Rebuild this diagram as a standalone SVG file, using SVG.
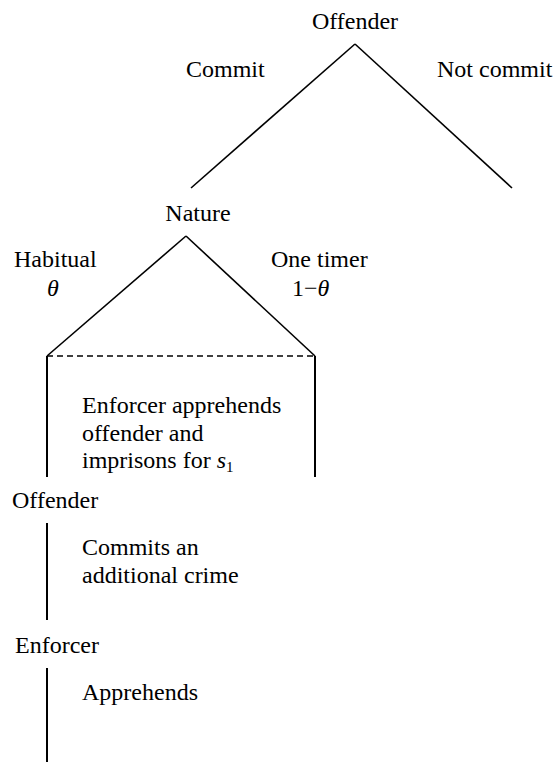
<svg xmlns="http://www.w3.org/2000/svg" width="556" height="765" viewBox="0 0 556 765">
<style>
.e{stroke:#000;stroke-width:1.6;fill:none}
.v{stroke:#000;stroke-width:2;fill:none}
.d{stroke:#000;stroke-width:1.6;stroke-dasharray:6 4;fill:none}
.it{font-style:italic}
</style>
<rect width="556" height="765" fill="#fff"/>
<g id="connectors">
<line class="e" x1="355" y1="44" x2="191" y2="188"/>
<line class="e" x1="355" y1="44" x2="512" y2="188"/>
<line class="e" x1="186" y1="236" x2="47" y2="356"/>
<line class="e" x1="186" y1="236" x2="315" y2="356"/>
<line class="d" x1="47" y1="356" x2="315" y2="356"/>
<line class="v" x1="47" y1="356" x2="47" y2="477"/>
<line class="v" x1="315" y1="356" x2="315" y2="477"/>
<line class="v" x1="47" y1="523" x2="47" y2="620"/>
<line class="v" x1="47" y1="668" x2="47" y2="762"/>
</g>
<g font-family="Times New Roman" font-size="24" fill="#000">
<g id="offender-root">
<text x="355" y="29" text-anchor="middle">Offender</text>
<text x="186" y="77">Commit</text>
<text x="437" y="77">Not commit</text>
</g>
<g id="nature">
<text x="198" y="221" text-anchor="middle">Nature</text>
<text x="14" y="267">Habitual</text>
<text x="53" y="296" text-anchor="middle" class="it">θ</text>
<text x="271" y="267">One timer</text>
<text x="292" y="296">1−<tspan class="it">θ</tspan></text>
</g>
<g id="enforcer-info">
<text x="82" y="413">Enforcer apprehends</text>
<text x="82" y="441">offender and</text>
<text x="82" y="468">imprisons for <tspan class="it">s</tspan><tspan font-size="15" dy="4">1</tspan></text>
</g>
<g id="offender-2">
<text x="12" y="508">Offender</text>
<text x="82" y="555">Commits an</text>
<text x="82" y="583">additional crime</text>
</g>
<g id="enforcer-2">
<text x="15" y="653">Enforcer</text>
<text x="82" y="700">Apprehends</text>
</g>
</g>
</svg>
